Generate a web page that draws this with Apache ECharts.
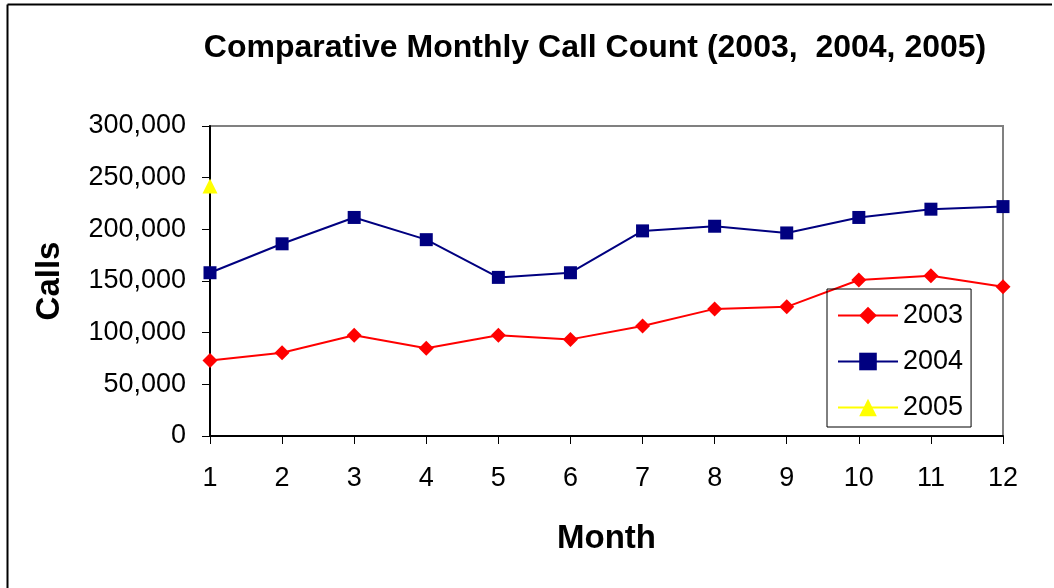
<!DOCTYPE html>
<html>
<head>
<meta charset="utf-8">
<script src="https://cdn.jsdelivr.net/npm/echarts@6/dist/echarts.min.js"></script>
<style>
  html, body { margin: 0; padding: 0; background: #fff; }
  #chart { width: 1054px; height: 588px; }
</style>
</head>
<body>
<div id="chart"></div>
<script>
const months = ['1', '2', '3', '4', '5', '6', '7', '8', '9', '10', '11', '12']
const calls2003 = [73000, 80500, 97500, 85000, 97500, 93500, 106500, 123000, 125000, 151000, 155000, 144500]
const calls2004 = [158000, 186000, 211500, 190000, 153500, 158000, 198500, 203000, 196500, 211500, 219500, 222000]
const calls2005 = [242000, null, null, null, null, null, null, null, null, null, null, null]

const font = 'Liberation Sans, Arial, sans-serif'

const chart = echarts.init(document.getElementById('chart'))

chart.setOption({
  backgroundColor: '#fff',
  animation: false,
  title: {
    text: 'Comparative Monthly Call Count (2003,  2004, 2005)',
    left: 590,
    top: 27,
    textAlign: 'center',
    textStyle: { fontFamily: font, fontWeight: 'bold', fontSize: 32, color: '#000' }
  },
  graphic: [
    { type: 'line', shape: { x1: 7.5, y1: 4.5, x2: 1052, y2: 4.5 }, style: { stroke: '#000', lineWidth: 2 } },
    { type: 'line', shape: { x1: 7.5, y1: 4.5, x2: 7.5, y2: 588 }, style: { stroke: '#000', lineWidth: 2 } }
  ],
  grid: {
    left: 210,
    right: 51,
    top: 126,
    bottom: 152,
    show: true,
    borderColor: '#808080',
    borderWidth: 2
  },
  legend: {
    orient: 'vertical',
    left: 827,
    top: 289,
    width: 145,
    padding: [13, 8, 6, 10],
    itemGap: 19,
    itemWidth: 60,
    itemHeight: 22,
    borderColor: '#000',
    borderWidth: 1,
    textStyle: { fontFamily: font, fontSize: 27, color: '#000' },
    data: ['2003', '2004', '2005']
  },
  xAxis: {
    type: 'category',
    data: months,
    boundaryGap: false,
    name: 'Month',
    nameLocation: 'middle',
    nameGap: 86,
    nameTextStyle: { fontFamily: font, fontWeight: 'bold', fontSize: 33, color: '#000' },
    axisLine: { lineStyle: { color: '#000', width: 2 } },
    axisTick: { inside: false, length: 8, lineStyle: { color: '#000' } },
    axisLabel: { margin: 29, fontFamily: font, fontSize: 27, color: '#000' },
    splitLine: { show: false }
  },
  yAxis: {
    type: 'value',
    min: 0,
    max: 300000,
    interval: 50000,
    name: 'Calls',
    nameLocation: 'middle',
    nameRotate: 90,
    nameGap: 144,
    nameTextStyle: { fontFamily: font, fontWeight: 'bold', fontSize: 33, color: '#000' },
    axisLine: { show: true, lineStyle: { color: '#000', width: 2 } },
    axisTick: { show: true, length: 8, lineStyle: { color: '#000' } },
    axisLabel: {
      margin: 24,
      fontFamily: font,
      fontSize: 27,
      color: '#000',
      formatter: v => v.toLocaleString('en-US')
    },
    splitLine: { show: false }
  },
  series: [
    {
      name: '2003',
      type: 'line',
      data: calls2003,
      symbol: 'diamond',
      symbolSize: 15,
      itemStyle: { color: '#ff0000' },
      lineStyle: { color: '#ff0000', width: 2 }
    },
    {
      name: '2004',
      type: 'line',
      data: calls2004,
      symbol: 'rect',
      symbolSize: 13,
      itemStyle: { color: '#000080' },
      lineStyle: { color: '#000080', width: 2 }
    },
    {
      name: '2005',
      type: 'line',
      data: calls2005,
      symbol: 'triangle',
      symbolSize: 15,
      itemStyle: { color: '#ffff00' },
      lineStyle: { color: '#ffff00', width: 2 }
    }
  ]
})

window.addEventListener('resize', () => chart.resize())
</script>
</body>
</html>
